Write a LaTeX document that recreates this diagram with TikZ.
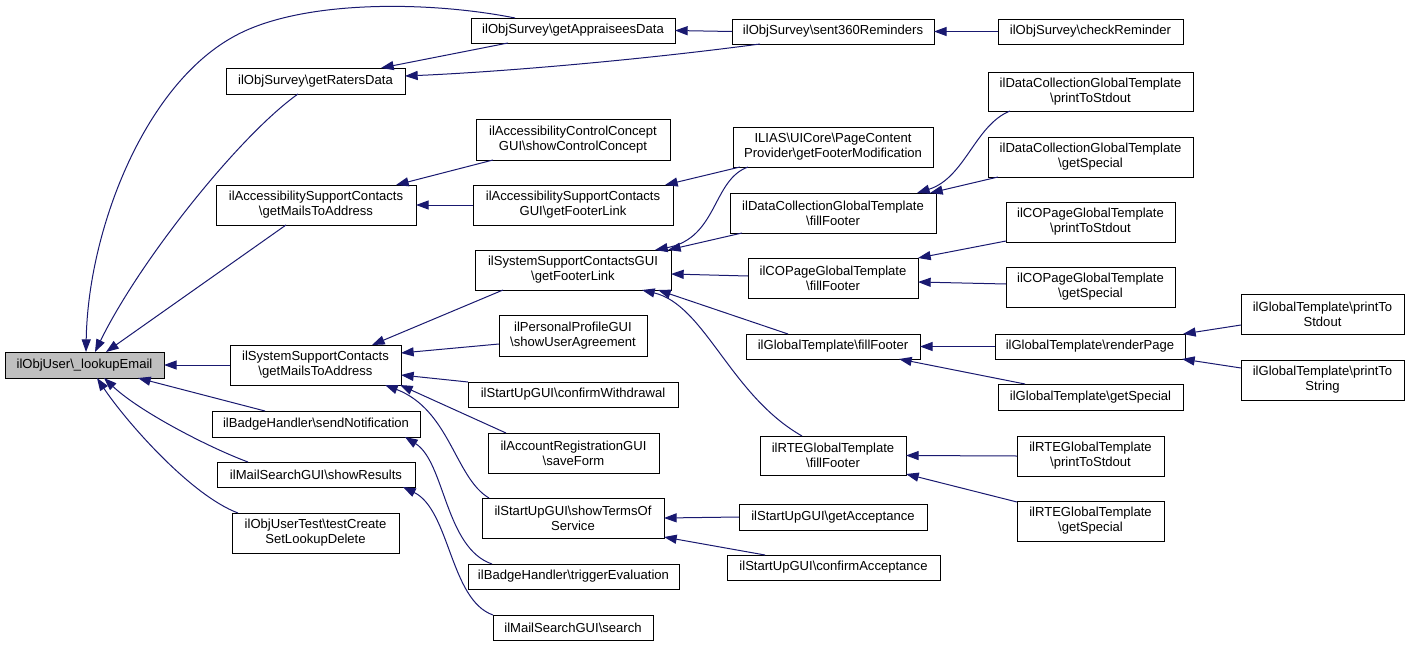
\documentclass[tikz,border=0pt]{standalone}
\usepackage{fontspec}
\setmainfont{Liberation Sans}
\usetikzlibrary{arrows.meta,calc}
\definecolor{edgec}{HTML}{191970}
\definecolor{focusc}{HTML}{BFBFBF}
\newcommand\bs{\textbackslash}
\newcommand\mkbox[7][]{\node[box,#1,minimum width={(#5-#3)*0.75pt},minimum height={(#6-#4)*0.75pt}] (#2) at ({(#3+#5)/2},{(#4+#6)/2}) {#7};}
\tikzset{
  box/.style={draw=black,fill=white,line width=0.75pt,inner sep=0pt,outer sep=0pt,align=center,font=\fontsize{9.8pt}{11.3pt}\selectfont},
  focus/.style={fill=focusc},
  edge/.style={draw=edgec,line width=0.75pt,-{Triangle[length=9.5pt,width=6.8pt,fill=edgec]}}
}
\begin{document}
\begin{tikzpicture}[x=0.75pt,y=-0.75pt]
\fill[white] (0,0) rectangle (1409,646);
\useasboundingbox (0,0) rectangle (1409,646);
% column 1
\mkbox[focus]{N0}{5}{352}{164}{378}{ilObjUser\bs\_lookupEmail}
% column 2
\mkbox{N1}{226}{68}{405}{94}{ilObjSurvey\bs getRatersData}
\mkbox{N2}{216}{185}{416}{225}{ilAccessibilitySupportContacts\\\bs getMailsToAddress}
\mkbox{N3}{230}{345}{401}{385}{ilSystemSupportContacts\\\bs getMailsToAddress}
\mkbox{N4}{212}{411}{420}{437}{ilBadgeHandler\bs sendNotification}
\mkbox{N5}{217}{462}{415}{487}{ilMailSearchGUI\bs showResults}
\mkbox{N6}{232}{513}{399}{553}{ilObjUserTest\bs testCreate\\SetLookupDelete}
% column 3
\mkbox{N7}{471}{18}{675}{43}{ilObjSurvey\bs getAppraiseesData}
\mkbox{N8}{476}{119}{670}{160}{ilAccessibilityControlConcept\\GUI\bs showControlConcept}
\mkbox{N9}{473}{185}{673}{225}{ilAccessibilitySupportContacts\\GUI\bs getFooterLink}
\mkbox{N10}{475}{250}{671}{290}{ilSystemSupportContactsGUI\\\bs getFooterLink}
\mkbox{N11}{499}{315}{647}{356}{ilPersonalProfileGUI\\\bs showUserAgreement}
\mkbox{N12}{468}{382}{678}{407}{ilStartUpGUI\bs confirmWithdrawal}
\mkbox{N13}{488}{433}{659}{473}{ilAccountRegistrationGUI\\\bs saveForm}
\mkbox{N14}{482}{498}{664}{538}{ilStartUpGUI\bs showTermsOf\\Service}
\mkbox{N15}{468}{564}{679}{589}{ilBadgeHandler\bs triggerEvaluation}
\mkbox{N16}{493}{615}{653}{640}{ilMailSearchGUI\bs search}
% column 4
\mkbox{N17}{732}{19}{934}{44}{ilObjSurvey\bs sent360Reminders}
\mkbox{N18}{733}{127}{933}{167}{ILIAS\bs UICore\bs PageContent\\Provider\bs getFooterModification}
\mkbox{N19}{730}{193}{936}{233}{ilDataCollectionGlobalTemplate\\\bs fillFooter}
\mkbox{N20}{748}{258}{918}{298}{ilCOPageGlobalTemplate\\\bs fillFooter}
\mkbox{N21}{746}{334}{920}{359}{ilGlobalTemplate\bs fillFooter}
\mkbox{N22}{760}{436}{906}{475}{ilRTEGlobalTemplate\\\bs fillFooter}
\mkbox{N23}{739}{504}{927}{530}{ilStartUpGUI\bs getAcceptance}
\mkbox{N24}{727}{555}{940}{580}{ilStartUpGUI\bs confirmAcceptance}
% column 5
\mkbox{N25}{998}{19}{1183}{44}{ilObjSurvey\bs checkReminder}
\mkbox{N26}{988}{72}{1193}{111}{ilDataCollectionGlobalTemplate\\\bs printToStdout}
\mkbox{N27}{988}{137}{1193}{177}{ilDataCollectionGlobalTemplate\\\bs getSpecial}
\mkbox{N28}{1006}{202}{1175}{242}{ilCOPageGlobalTemplate\\\bs printToStdout}
\mkbox{N29}{1006}{267}{1175}{307}{ilCOPageGlobalTemplate\\\bs getSpecial}
\mkbox{N30}{995}{334}{1185}{359}{ilGlobalTemplate\bs renderPage}
\mkbox{N31}{998}{384}{1183}{410}{ilGlobalTemplate\bs getSpecial}
\mkbox{N32}{1017}{436}{1164}{476}{ilRTEGlobalTemplate\\\bs printToStdout}
\mkbox{N33}{1017}{501}{1164}{541}{ilRTEGlobalTemplate\\\bs getSpecial}
% column 6
\mkbox{N34}{1241}{294}{1404}{334}{ilGlobalTemplate\bs printTo\\Stdout}
\mkbox{N35}{1241}{360}{1404}{400}{ilGlobalTemplate\bs printTo\\String}
% edges into lookupEmail
\draw[edge] ($(N7.north west)+(44,0)$) .. controls (430,1) and (300,-1) .. (233,37) .. controls (143,87) and (88,232) .. ($(N0.north west)+(81,0)$);
\draw[edge] ($(N1.north west)+(72,26)$) .. controls (240,135) and (140,260) .. ($(N0.north west)+(90,0)$);
\draw[edge] ($(N2.north west)+(70,40)$) -- ($(N0.north west)+(101,0)$);
\draw[edge] (N3.west) -- (N0.east);
\draw[edge] ($(N4.north west)+(53,0)$) -- ($(N0.north west)+(133,26)$);
\draw[edge] ($(N5.north west)+(31,0)$) .. controls (210,448) and (140,412) .. ($(N0.north west)+(99,26)$);
\draw[edge] ($(N6.north west)+(6,0)$) .. controls (190,495) and (125,420) .. ($(N0.north west)+(92,26)$);
% survey
\draw[edge] ($(N7.north west)+(37,25)$) -- ($(N1.north west)+(155,0)$);
\draw[edge] ($(N17.north west)+(28,25)$) .. controls (640,60) and (500,72) .. ($(N1.north west)+(179,8)$);
\draw[edge] (N17.west) -- (N7.east);
\draw[edge] (N25.west) -- (N17.east);
% accessibility
\draw[edge] ($(N8.north west)+(17,41)$) -- ($(N2.north west)+(180,0)$);
\draw[edge] (N9.west) -- (N2.east);
\draw[edge] ($(N18.north west)+(7,40)$) -- ($(N9.north west)+(192,0)$);
% system support mails
\draw[edge] ($(N10.north west)+(28,40)$) -- ($(N3.north west)+(142,0)$);
\draw[edge] ($(N11.north west)+(0,29)$) -- ($(N3.north west)+(171,8)$);
\draw[edge] (N12.north west) -- ($(N3.north west)+(171,30)$);
\draw[edge] ($(N13.north west)+(18,0)$) -- ($(N3.north west)+(170,40)$);
\draw[edge] ($(N14.north west)+(7,0)$) .. controls (455,478) and (450,410) .. ($(N3.north west)+(155,40)$);
% badge / mail search
\draw[edge] ($(N15.north west)+(24,0)$) .. controls (445,548) and (445,462) .. ($(N4.north west)+(193,26)$);
\draw[edge] (N16.north west) .. controls (450,600) and (450,510) .. ($(N5.north west)+(186,25)$);
% system support GUI footer link
\draw[edge] ($(N18.north west)+(15,40)$) .. controls (712,180) and (718,238) .. ($(N10.north west)+(180,0)$);
\draw[edge] ($(N19.north west)+(12,40)$) -- ($(N10.north west)+(193,0)$);
\draw[edge] ($(N20.north west)+(0,18)$) -- ($(N10.north west)+(196,24)$);
\draw[edge] ($(N21.north west)+(42,0)$) -- ($(N10.north west)+(183,40)$);
\draw[edge] ($(N22.north west)+(42,0)$) .. controls (730,395) and (705,305) .. ($(N10.north west)+(167,40)$);
% templates
\draw[edge] ($(N26.north west)+(22,39)$) .. controls (975,125) and (965,178) .. ($(N19.north west)+(187,0)$);
\draw[edge] ($(N27.north west)+(10,40)$) -- ($(N19.north west)+(200,0)$);
\draw[edge] ($(N28.north west)+(0,39)$) -- ($(N20.north west)+(170,0)$);
\draw[edge] ($(N29.north west)+(0,17)$) -- ($(N20.north west)+(170,24)$);
\draw[edge] (N30.west) -- (N21.east);
\draw[edge] ($(N31.north west)+(27,0)$) -- ($(N21.north west)+(153,25)$);
\draw[edge] ($(N34.north west)+(0,31)$) -- ($(N30.north west)+(188,0)$);
\draw[edge] ($(N35.north west)+(0,8)$) -- ($(N30.north west)+(187,25)$);
\draw[edge] (N32.west) -- (N22.east);
\draw[edge] ($(N33.north west)+(0,1)$) -- ($(N22.north west)+(146,38)$);
% start up
\draw[edge] (N23.west) -- (N14.east);
\draw[edge] ($(N24.north west)+(38,0)$) -- ($(N14.north west)+(182,39)$);
\end{tikzpicture}
\end{document}
